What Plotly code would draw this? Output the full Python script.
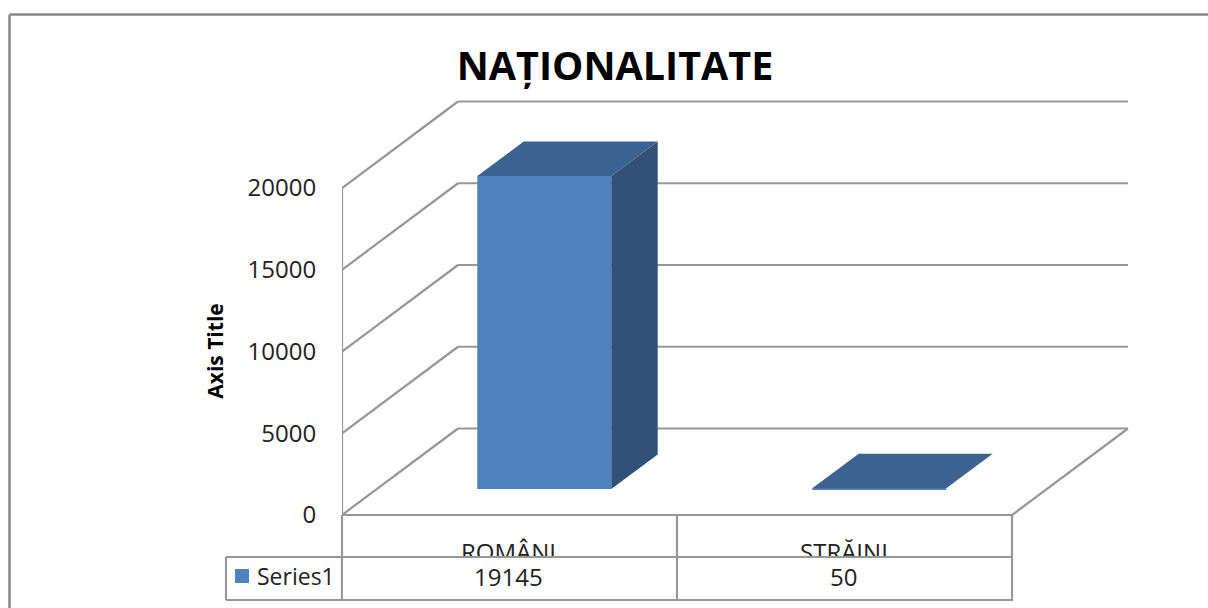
import plotly.graph_objects as go

# ---- data ----
categories = ["ROMÂNI", "STRĂINI"]
series_name = "Series1"
series_values = [19145, 50]
y_ticks = [0, 5000, 10000, 15000, 20000]
chart_title = "NAȚIONALITATE"
y_title = "Axis Title"

# ---- page / scale ----
W, H = 1208, 608
PLOT_LEFT = 342
PLOT_TOP = 94
ZERO_PX, TOP_PX = 515, 188
CAT_PX = 335
VAL_PER_PX = 20000 / (ZERO_PX - TOP_PX)
DX = 116 / CAT_PX          # depth shift, category units
DY = 86.5 * VAL_PER_PX     # depth shift, value units
BAR_GAP, BAR_W = 0.3, 0.4  # bar position inside a category
D_FRONT, D_BACK = 0.3, 0.7 # bar position in depth

GRID = "#979797"
FRONT, TOP, SIDE = "#4f81bd", "#3c6390", "#315278"
FONT = "Open Sans"
TICK_SIZE = 24


def px(x):
    return x / W


def py(y):
    return 1 - y / H


def pt(cat, val, d=0.0):
    return cat + d * DX, val + d * DY


fig = go.Figure()

# front faces, from the values
fig.add_trace(go.Bar(
    x=[i + BAR_GAP + BAR_W / 2 + D_FRONT * DX for i in range(len(categories))],
    y=series_values,
    base=[D_FRONT * DY] * len(categories),
    width=BAR_W,
    marker=dict(color=FRONT, line=dict(width=0)),
    name=series_name,
    showlegend=False,
    hoverinfo="skip",
))


def poly(points, color):
    xs = [p[0] for p in points] + [points[0][0]]
    ys = [p[1] for p in points] + [points[0][1]]
    fig.add_trace(go.Scatter(x=xs, y=ys, mode="lines", fill="toself", fillcolor=color,
                             line=dict(width=0, color=color), showlegend=False,
                             hoverinfo="skip"))


# top and side faces
for i, v in enumerate(series_values):
    l, r = i + BAR_GAP, i + BAR_GAP + BAR_W
    poly([pt(r, 0, D_FRONT), pt(r, 0, D_BACK), pt(r, v, D_BACK), pt(r, v, D_FRONT)], SIDE)
    poly([pt(l, v, D_FRONT), pt(r, v, D_FRONT), pt(r, v, D_BACK), pt(l, v, D_BACK)], TOP)

shapes = []


def data_line(a, b):
    shapes.append(dict(type="line", xref="x", yref="y", layer="below",
                       x0=a[0], y0=a[1], x1=b[0], y1=b[1],
                       line=dict(color=GRID, width=2.2)))


def page_line(x0, y0, x1, y1, color=GRID, width=2.2):
    shapes.append(dict(type="line", xref="paper", yref="paper", layer="below",
                       x0=px(x0), y0=py(y0), x1=px(x1), y1=py(y1),
                       line=dict(color=color, width=width)))


# 3D walls: gridlines, left wall edge, floor
n = len(categories)
for t in y_ticks:
    data_line(pt(0, t), pt(0, t, 1))
    data_line(pt(0, t, 1), pt(n, t, 1))
data_line(pt(0, 0), pt(0, y_ticks[-1]))
data_line(pt(0, 0), pt(n, 0))
data_line(pt(n, 0), pt(n, 0, 1))

# data table frame
TABLE_MID, TABLE_BOTTOM, TABLE_LEFT = 557, 600, 226
for i in range(n + 1):
    x = PLOT_LEFT + i * CAT_PX
    page_line(x, ZERO_PX, x, TABLE_BOTTOM)
page_line(TABLE_LEFT, TABLE_MID, PLOT_LEFT + n * CAT_PX, TABLE_MID)
page_line(TABLE_LEFT, TABLE_BOTTOM, PLOT_LEFT + n * CAT_PX, TABLE_BOTTOM)
page_line(TABLE_LEFT, TABLE_MID, TABLE_LEFT, TABLE_BOTTOM)

# legend key
shapes.append(dict(type="rect", xref="paper", yref="paper", layer="below",
                   x0=px(235), x1=px(249), y0=py(583), y1=py(569),
                   fillcolor=FRONT, line=dict(width=0)))

# outer chart frame
page_line(9.5, 14.5, W, 14.5, "#878787", 2.5)
page_line(9.5, 14.5, 9.5, H, "#878787", 2.5)

annotations = []


def note(text, x, y, size=TICK_SIZE, **kw):
    annotations.append(dict(text=text, xref="paper", yref="paper", x=px(x), y=py(y),
                            xanchor="center", yanchor="middle", showarrow=False,
                            font=dict(family=FONT, size=size, color="#222222"),
                            **kw))


# category labels, then blank value cells which cover their lower part, then the values
for i, c in enumerate(categories):
    note(c, PLOT_LEFT + (i + 0.5) * CAT_PX - 1, 551.5, size=24)
for i in range(n):
    note(" ", PLOT_LEFT + (i + 0.5) * CAT_PX, 578.5, width=CAT_PX - 2, height=TABLE_BOTTOM - TABLE_MID - 2,
         bgcolor="white", bordercolor=GRID, borderwidth=2, borderpad=0)
for i, v in enumerate(series_values):
    note(str(v), PLOT_LEFT + (i + 0.5) * CAT_PX - 1, 576.5)
note(series_name, 295.5, 575.5, size=23)

fig.update_layout(
    width=W, height=H, autosize=False,
    margin=dict(l=0, r=0, t=0, b=0),
    paper_bgcolor="white", plot_bgcolor="rgba(0,0,0,0)",
    showlegend=False,
    title=dict(text=f"<b>{chart_title}</b>", x=615 / W, xanchor="center", y=py(66.5), yanchor="middle",
               font=dict(family=FONT, size=39.5, color="black")),
    font=dict(family=FONT),
    shapes=shapes,
    annotations=annotations,
    xaxis=dict(domain=[PLOT_LEFT / W, 1], range=[0, (W - PLOT_LEFT) / CAT_PX],
               visible=False, fixedrange=True),
    yaxis=dict(domain=[0, 1 - PLOT_TOP / H],
               range=[-(H - ZERO_PX) * VAL_PER_PX, (ZERO_PX - PLOT_TOP) * VAL_PER_PX],
               tickmode="array", tickvals=y_ticks, ticktext=[str(t) for t in y_ticks],
               showgrid=False, zeroline=False, showline=False,
               ticks="outside", ticklen=20, tickcolor="rgba(0,0,0,0)",
               tickfont=dict(family=FONT, size=TICK_SIZE, color="#222222"),
               title=dict(text=f"<b>{y_title}</b>", standoff=18,
                          font=dict(family=FONT, size=21, color="black")),
               fixedrange=True),
)

fig.write_html("out.html", config=dict(displayModeBar=False),
               post_script="document.body.style.margin='0';")
